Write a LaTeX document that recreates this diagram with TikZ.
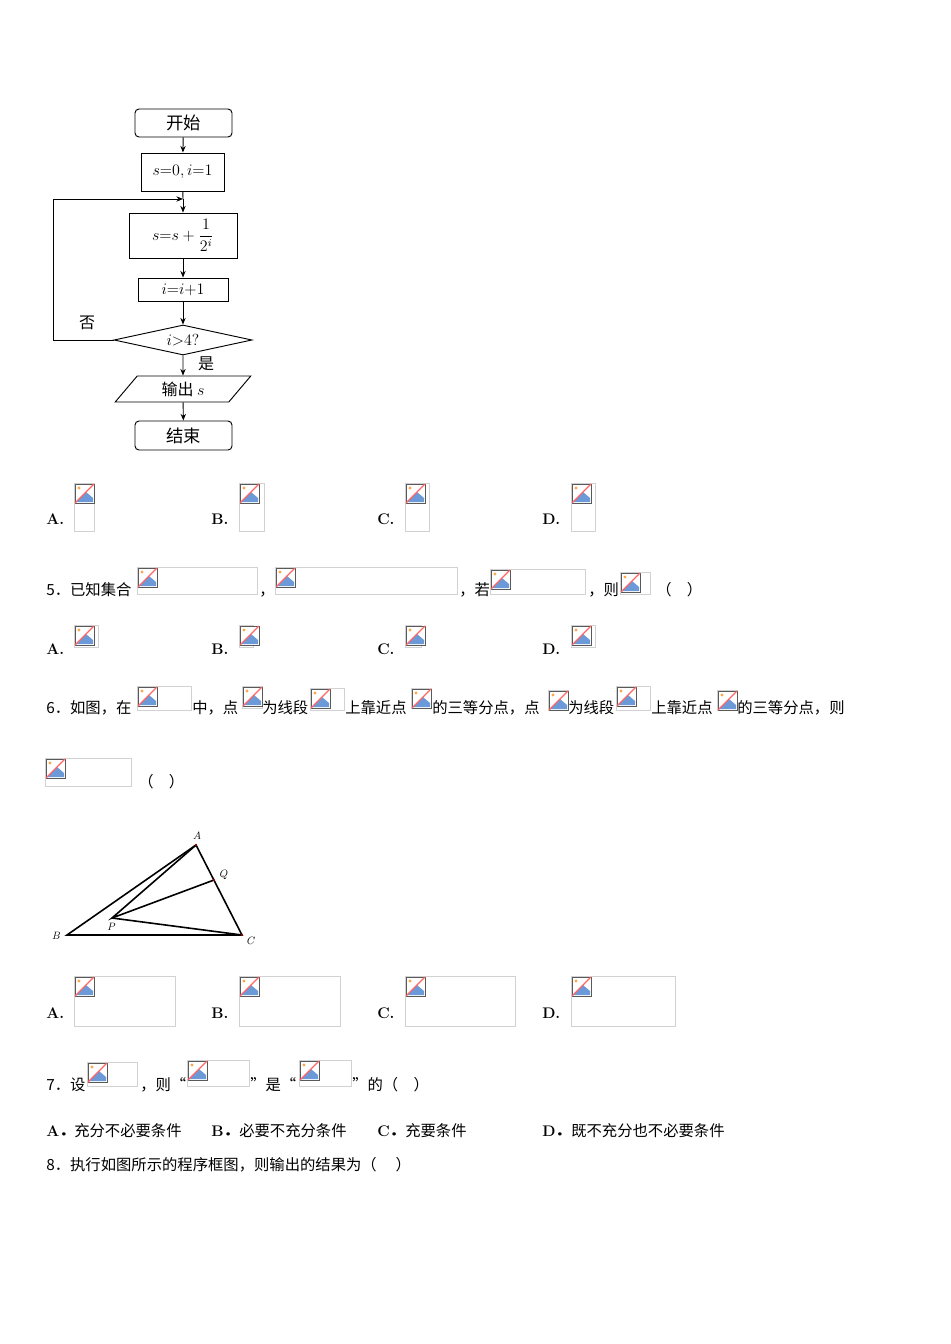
\documentclass[tikz,border=0pt]{standalone}
\usepackage{fontspec}
\newfontfamily\cjk{Noto Sans CJK SC}
\usetikzlibrary{shapes.geometric,arrows.meta}
\newcommand\bimg[4]{%
  \draw[gray!35,line width=0.6pt] (#1,#2) rectangle ++(#3,#4);
  \fill[white] (#1+1,#2+1) rectangle ++(19,19);
  \draw[gray!70!black,line width=0.5pt] (#1+1,#2+1) rectangle ++(19,19);
  \fill[cyan!50!blue!60] (#1+2,#2+19) -- (#1+12,#2+9) -- (#1+19,#2+15) -- (#1+19,#2+19) -- cycle;
  \fill[orange!70] (#1+5,#2+5) circle (1.6);
  \draw[red!60,line width=0.9pt] (#1+1,#2+20) -- (#1+20,#2+1);
}
\tikzset{
  fc/.style={draw,line width=0.7pt,minimum height=0pt,inner sep=0pt},
  arr/.style={-{Stealth[length=5pt,width=4pt]},line width=0.7pt},
  txt/.style={anchor=base west,inner sep=0pt,font=\cjk\fontsize{11.5}{14}\selectfont},
  opt/.style={anchor=base west,inner sep=0pt,font=\bfseries\fontsize{11.5}{14}\selectfont},
  lab/.style={inner sep=0pt,font=\itshape\fontsize{8}{9}\selectfont}
}
\begin{document}
\begin{tikzpicture}[x=0.75pt,y=-0.75pt]
\useasboundingbox[fill=white] (0,0) rectangle (950,1344);
% flowchart
\node[fc,rounded corners=3pt,minimum width=97*0.75pt,minimum height=28*0.75pt] (st) at (183.5,123) {\cjk\fontsize{13}{14}\selectfont 开始};
\node[fc,minimum width=83*0.75pt,minimum height=38*0.75pt] (init) at (182.5,172) {\fontsize{13}{14}\selectfont $s{=}0,i{=}1$};
\node[fc,minimum width=108*0.75pt,minimum height=45*0.75pt] (sum) at (183,235.5) {\fontsize{12}{14}\selectfont $s{=}s+\displaystyle\frac{1}{2^i}$};
\node[fc,minimum width=90*0.75pt,minimum height=23*0.75pt] (inc) at (183,289.5) {\fontsize{13}{14}\selectfont $i{=}i{+}1$};
\node[fc,diamond,aspect=4.6,minimum width=138*0.75pt,minimum height=30*0.75pt] (dec) at (183,340) {\fontsize{12}{14}\selectfont $i{>}4?$};
\node[fc,trapezium,trapezium left angle=55,trapezium right angle=125,minimum width=136*0.75pt,minimum height=26*0.75pt,trapezium stretches=true] (out) at (183,389) {\cjk\fontsize{12}{14}\selectfont 输出 $s$};
\node[fc,rounded corners=3pt,minimum width=97*0.75pt,minimum height=29*0.75pt] (en) at (183.5,435.5) {\cjk\fontsize{13}{14}\selectfont 结束};
\coordinate (j) at (183,199);
\coordinate (l1) at (53,340);
\coordinate (l2) at (53,199);
\draw[arr] (st) -- (init);
\draw[line width=0.7pt] (init) -- (j);
\draw[arr] (j) -- (sum);
\draw[arr] (sum) -- (inc);
\draw[arr] (inc) -- (dec);
\draw[arr] (dec) -- (out);
\draw[arr] (out) -- (en);
\draw[arr] (dec.west) -- (l1) -- (l2) -- (j);
\node[inner sep=0pt,font=\cjk\fontsize{12}{14}\selectfont] (no) at (87,323) {否};
\node[inner sep=0pt,font=\cjk\fontsize{12}{14}\selectfont] (yes) at (206,364) {是};
% row 1
\node[opt] (a1) at (46,524) {A.}; \bimg{74}{483}{20}{48}
\node[opt] (b1) at (211,524) {B.}; \bimg{239}{483}{25}{48}
\node[opt] (c1) at (377,524) {C.}; \bimg{405}{483}{24}{48}
\node[opt] (d1) at (542,524) {D.}; \bimg{571}{483}{24}{48}
% q5
\node[txt] (q5) at (46,595) {5．已知集合};
\bimg{137}{567}{120}{27}
\node[txt] (q5b) at (259,595) {，};
\bimg{275}{567}{182}{27}
\node[txt] (q5c) at (459,595) {，若};
\bimg{490}{569}{95}{25}
\node[txt] (q5d) at (588,595) {，则};
\bimg{620}{572}{30}{22}
\node[txt] (q5e) at (656,595) {（\quad）};
\node[opt] (a2) at (46,654) {A.}; \bimg{74}{625}{24}{22}
\node[opt] (b2) at (211,654) {B.}; \bimg{239}{625}{14}{22}
\node[opt] (c2) at (377,654) {C.}; \bimg{405}{625}{16}{22}
\node[opt] (d2) at (542,654) {D.}; \bimg{571}{625}{24}{22}
% q6
\node[txt] (q6) at (46,713) {6．如图，在};
\bimg{137}{686}{54}{24}
\node[txt] (q6b) at (192,713) {中，点};
\bimg{242}{686}{20}{22}
\node[txt] (q6c) at (262,713) {为线段};
\bimg{310}{688}{34}{22}
\node[txt] (q6d) at (345,713) {上靠近点};
\bimg{411}{688}{20}{20}
\node[txt] (q6e) at (432,713) {的三等分点，点};
\bimg{548}{690}{20}{20}
\node[txt] (q6f) at (568,713) {为线段};
\bimg{616}{686}{34}{24}
\node[txt] (q6g) at (651,713) {上靠近点};
\bimg{717}{690}{20}{20}
\node[txt] (q6h) at (737,713) {的三等分点，则};
\bimg{45}{758}{86}{28}
\node[txt] (q6i) at (138,787) {（\quad）};
% triangle
\coordinate (A) at (196,845); \coordinate (B) at (67,935); \coordinate (C) at (242,935);
\coordinate (P) at (112,918); \coordinate (Q) at (214,880);
\draw[line width=1.2pt] (A) -- (B) -- (C) -- cycle;
\draw[line width=1.2pt] (A) -- (P) -- (Q);
\draw[line width=1.2pt] (P) -- (C);
\fill[red!70!black] (A) circle (1.2) (Q) circle (1.2) (C) circle (1.2);
\node[lab] (la) at (197,836) {A};
\node[lab] (lb) at (56,936) {B};
\node[lab] (lc) at (250,941) {C};
\node[lab] (lp) at (111,927) {P};
\node[lab] (lq) at (223,875) {Q};
% row
\node[opt] (a3) at (46,1018) {A.}; \bimg{74}{976}{101}{50}
\node[opt] (b3) at (211,1018) {B.}; \bimg{239}{976}{101}{50}
\node[opt] (c3) at (377,1018) {C.}; \bimg{405}{976}{110}{50}
\node[opt] (d3) at (542,1018) {D.}; \bimg{571}{976}{104}{50}
% q7
\node[txt] (q7) at (46,1090) {7．设};
\bimg{87}{1062}{50}{24}
\node[txt] (q7b) at (140,1090) {，则“};
\bimg{187}{1060}{62}{26}
\node[txt] (q7c) at (250,1090) {”是“};
\bimg{299}{1060}{52}{26}
\node[txt] (q7d) at (352,1090) {”的（\quad）};
\node[opt] (a4) at (46,1136) {A{\cjk．}}; \node[txt] (a4t) at (74,1136) {充分不必要条件};
\node[opt] (b4) at (211,1136) {B{\cjk．}}; \node[txt] (b4t) at (239,1136) {必要不充分条件};
\node[opt] (c4) at (377,1136) {C{\cjk．}}; \node[txt] (c4t) at (405,1136) {充要条件};
\node[opt] (d4) at (542,1136) {D{\cjk．}}; \node[txt] (d4t) at (571,1136) {既不充分也不必要条件};
\node[txt] (q8) at (46,1170) {8．执行如图所示的程序框图，则输出的结果为（\quad\ ）};
\end{tikzpicture}
\end{document}
